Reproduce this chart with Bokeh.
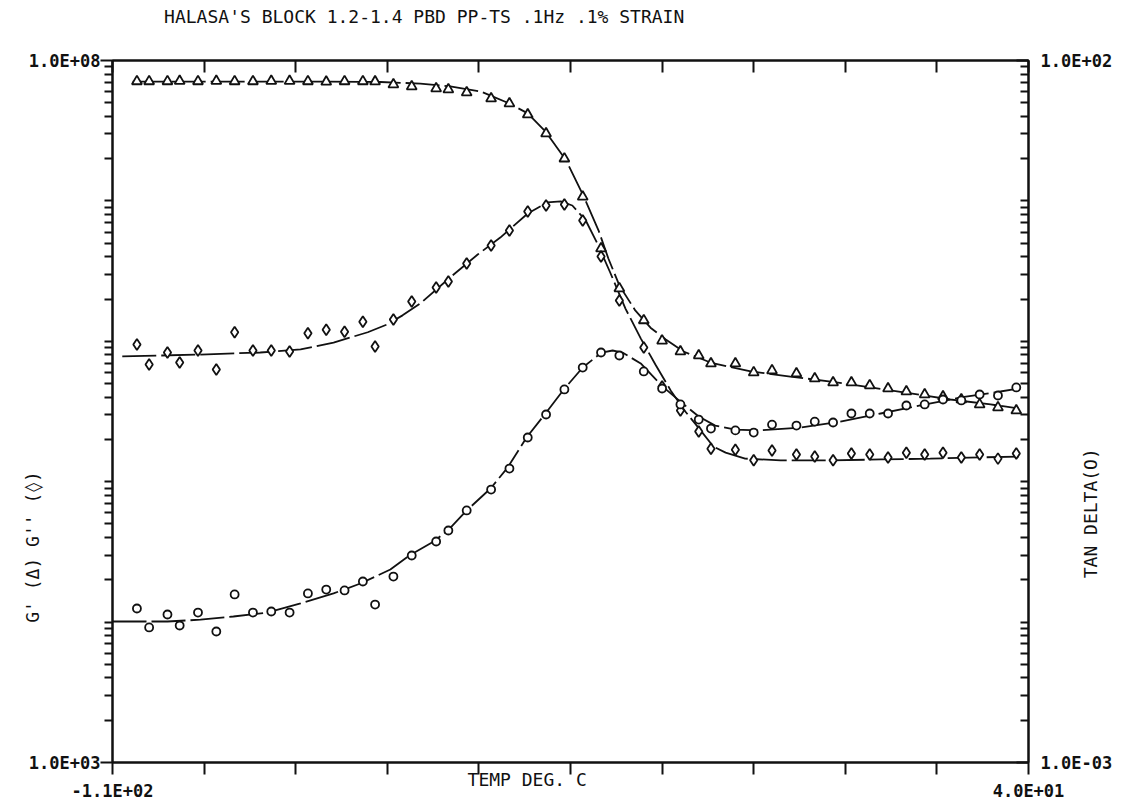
import math
from bokeh.plotting import figure
from bokeh.models import Range1d, LogScale, LogAxis, LinearAxis, FixedTicker
from bokeh.embed import file_html
from bokeh.resources import INLINE

# ---------------- text ----------------
title_text = "HALASA'S BLOCK 1.2-1.4 PBD PP-TS .1Hz .1% STRAIN"
x_label = "TEMP DEG. C"
left_label = "G' (\u0394)    G'' (\u25ca)"
right_label = "TAN DELTA(O)"
x_tick_labels = ["-1.1E+02", "4.0E+01"]
left_tick_labels = ["1.0E+03", "1.0E+08"]
right_tick_labels = ["1.0E-03", "1.0E+02"]

# ---------------- measured points ----------------
temps = [-106, -104, -101, -99, -96, -93, -90, -87, -84, -81,
         -78, -75, -72, -69, -67, -64, -61, -57, -55, -52,
         -48, -45, -42, -39, -36, -33, -30, -27, -23, -20,
         -17, -14, -12, -8, -5, -2, 2, 5, 8, 11,
         14, 17, 20, 23, 26, 29, 32, 35, 38]

g_storage = [7.1e7, 7.1e7, 7.1e7, 7.15e7, 7.1e7, 7.15e7, 7.1e7, 7.1e7, 7.15e7, 7.15e7,
             7.1e7, 7.05e7, 7.1e7, 7.1e7, 7.08e7, 6.75e7, 6.53e7, 6.32e7, 6.22e7, 5.92e7,
             5.36e7, 4.94e7, 4.12e7, 3.02e7, 2.0e7, 1.07e7, 4.58e6, 2.38e6, 1.41e6, 1.01e6,
             8.46e5, 7.92e5, 6.95e5, 6.95e5, 6.0e5, 6.2e5, 5.9e5, 5.43e5, 5.09e5, 5.09e5,
             4.85e5, 4.61e5, 4.39e5, 4.18e5, 4.04e5, 3.85e5, 3.55e5, 3.38e5, 3.21e5]

g_loss = [9.49e5, 6.84e5, 8.32e5, 7.06e5, 8.6e5, 6.3e5, 1.16e6, 8.6e5, 8.6e5, 8.46e5,
          1.14e6, 1.21e6, 1.17e6, 1.38e6, 9.18e5, 1.43e6, 1.92e6, 2.42e6, 2.67e6, 3.58e6,
          4.81e6, 6.15e6, 8.4e6, 9.27e6, 9.43e6, 7.25e6, 4.02e6, 1.95e6, 9.03e5, 4.76e5,
          3.21e5, 2.28e5, 1.72e5, 1.69e5, 1.42e5, 1.67e5, 1.56e5, 1.51e5, 1.42e5, 1.59e5,
          1.56e5, 1.49e5, 1.61e5, 1.56e5, 1.61e5, 1.49e5, 1.56e5, 1.46e5, 1.59e5]

tan_delta = [0.0125, 0.00916, 0.01133, 0.00946, 0.0117, 0.00857, 0.01574, 0.0117, 0.0119, 0.0117,
             0.016, 0.01706, 0.0168, 0.01946, 0.01334, 0.0211, 0.0298, 0.0375, 0.0449, 0.0624,
             0.0879, 0.124, 0.2065, 0.301, 0.454, 0.650, 0.832, 0.792, 0.610, 0.461,
             0.355, 0.277, 0.239, 0.232, 0.224, 0.255, 0.251, 0.268, 0.264, 0.306,
             0.306, 0.306, 0.349, 0.355, 0.385, 0.379, 0.418, 0.411, 0.469]

# ---------------- fitted curves ----------------
gs_curve_t = [-106.7, -95.6, -79.2, -66.1, -59.6, -54.7, -49.7, -45.0, -42.0, -39.1,
              -35.7, -32.9, -30.4, -28.8, -27.0, -24.4, -21.9, -19.4, -16.5, -12.1,
              -5.5, 1.0, 7.6, 14.1, 20.7, 27.2, 33.8, 38.4]
gs_curve_v = [7.08e7, 7.08e7, 7.08e7, 7.03e7, 6.85e7, 6.53e7, 6.01e7, 4.94e7, 4.2e7, 3.12e7,
              1.94e7, 1.09e7, 6.15e6, 3.89e6, 2.5e6, 1.66e6, 1.25e6, 1.03e6, 8.46e5, 7.06e5,
              6.1e5, 5.61e5, 5.17e5, 4.69e5, 4.25e5, 3.85e5, 3.55e5, 3.32e5]

gl_curve_t = [-108.4, -95.6, -85.8, -79.2, -73.8, -68.2, -65.0, -62.5, -59.6, -54.7,
              -50.2, -46.5, -42.0, -38.8, -36.6, -34.7, -32.5, -30.6, -28.5, -26.0,
              -23.5, -21.1, -18.6, -16.2, -13.7, -11.6, -9.6, -6.4, -0.6, 7.6,
              15.8, 23.9, 32.1, 38.4]
gl_curve_v = [7.8e5, 8.05e5, 8.32e5, 8.75e5, 9.8e5, 1.16e6, 1.32e6, 1.53e6, 1.86e6, 2.85e6,
              4.15e6, 5.48e6, 8.13e6, 9.75e6, 9.91e6, 9.27e6, 7.25e6, 4.98e6, 3.09e6, 1.71e6,
              1.05e6, 6.84e5, 4.47e5, 3.16e5, 2.32e5, 1.78e5, 1.61e5, 1.46e5, 1.42e5, 1.42e5,
              1.44e5, 1.46e5, 1.49e5, 1.51e5]

td_curve_t = [-110.0, -101.0, -95.6, -90.2, -84.6, -79.2, -73.8, -69.4, -64.5, -61.4,
              -57.4, -55.1, -52.0, -48.1, -45.3, -42.2, -39.1, -36.1, -33.0, -29.9,
              -28.1, -26.5, -23.5, -19.9, -17.0, -14.0, -11.3, -8.0, -3.9, 2.7,
              9.2, 15.8, 22.3, 28.9, 35.4, 38.4]
td_curve_v = [0.0101, 0.0101, 0.0104, 0.01096, 0.0117, 0.01357, 0.0160, 0.01884, 0.0237, 0.0298,
              0.0375, 0.0449, 0.0624, 0.0894, 0.126, 0.2065, 0.306, 0.454, 0.651, 0.832,
              0.860, 0.832, 0.695, 0.476, 0.372, 0.291, 0.251, 0.235, 0.232, 0.243,
              0.268, 0.306, 0.349, 0.398, 0.439, 0.461]

x_ends = [-110, 40]
x_inner_ticks = [-95, -80, -65, -50, -35, -20, -5, 10, 25]
left_decades = [1e3, 1e4, 1e5, 1e6, 1e7, 1e8]
right_decades = [1e-3, 1e-2, 1e-1, 1e0, 1e1, 1e2]

FONT = "DejaVu Sans Mono"
INK = "#111111"
NBSP = "\u00a0"


def log_minor(decades):
    out = []
    for i, d in enumerate(decades[:-1]):
        for k in range(1, 10):
            if i == 0 and k == 1:
                continue
            out.append(d * k)
    return out


def style_axis(ax):
    ax.axis_line_width = 2
    ax.major_tick_line_width = 2
    ax.minor_tick_line_width = 2
    ax.axis_line_color = INK
    ax.major_tick_line_color = INK
    ax.minor_tick_line_color = INK
    ax.major_tick_in = 0
    ax.major_tick_out = 0
    ax.minor_tick_in = 0
    ax.minor_tick_out = 0
    ax.major_label_text_font = FONT
    ax.major_label_text_font_size = "17px"
    ax.major_label_text_font_style = "bold"
    ax.major_label_text_color = INK
    ax.axis_label_text_font = FONT
    ax.axis_label_text_font_size = "18px"
    ax.axis_label_text_font_style = "normal"
    ax.axis_label_text_color = INK


p = figure(width=1125, height=804,
           x_range=Range1d(-110, 40), y_range=Range1d(1e3, 1e8),
           y_axis_type="log", toolbar_location=None, output_backend="svg",
           min_border_left=112, min_border_right=97,
           min_border_top=60, min_border_bottom=42)
p.extra_y_ranges = {"tan": Range1d(1e-3, 1e2)}
p.extra_y_scales = {"tan": LogScale()}
p.xgrid.visible = False
p.ygrid.visible = False
p.outline_line_color = INK
p.outline_line_width = 2
p.background_fill_color = "white"
p.border_fill_color = "white"
p.title.visible = False

# bottom axis: ticks hang below the frame
xa = p.xaxis[0]
xa.ticker = FixedTicker(ticks=x_ends, minor_ticks=x_inner_ticks)
style_axis(xa)
xa.major_tick_out = 12
xa.minor_tick_out = 12
xa.major_label_overrides = {x_ends[0]: x_tick_labels[0], x_ends[1]: x_tick_labels[1]}
xa.major_label_standoff = 6
xa.axis_label = x_label + " " * 8
xa.axis_label_standoff = -35

# top axis: ticks hang into the frame; carries the chart heading
ta = LinearAxis(ticker=FixedTicker(ticks=[], minor_ticks=x_ends + x_inner_ticks))
style_axis(ta)
ta.minor_tick_in = 12
ta.major_label_standoff = 0
ta.axis_label = title_text + " " * 27
ta.axis_label_standoff = 34
p.add_layout(ta, "above")

# left axis: ticks point outwards
la = p.yaxis[0]
la.ticker = FixedTicker(ticks=[left_decades[0], left_decades[-1]],
                        minor_ticks=log_minor(left_decades))
style_axis(la)
la.major_tick_out = 12
la.minor_tick_out = 8
la.major_label_overrides = {left_decades[0]: left_tick_labels[0],
                            left_decades[-1]: left_tick_labels[1]}
la.major_label_standoff = 0
la.axis_label = left_label + " " * 22
la.axis_label_standoff = -17

# right axis: ticks point into the frame
ra = LogAxis(y_range_name="tan",
             ticker=FixedTicker(ticks=[right_decades[0], right_decades[-1]],
                                minor_ticks=log_minor(right_decades)))
style_axis(ra)
ra.major_tick_in = 12
ra.minor_tick_in = 8
ra.major_label_overrides = {right_decades[0]: right_tick_labels[0],
                            right_decades[-1]: right_tick_labels[1]}
ra.major_label_standoff = 12
rprops = ra.properties()
if "axis_label_orientation" in rprops and "axis_label_align" in rprops:
    ra.axis_label_orientation = math.pi / 2   # read bottom-to-top
    ra.axis_label_align = "start"
    ra.axis_label = NBSP * 17 + right_label
else:
    ra.axis_label = right_label
ra.axis_label_standoff = -25
p.add_layout(ra, "right")

# curves
dash = "34 5"
p.line(gs_curve_t, gs_curve_v, line_color=INK, line_width=1.8, line_dash=dash)
p.line(gl_curve_t, gl_curve_v, line_color=INK, line_width=1.8, line_dash=dash)
p.line(td_curve_t, td_curve_v, line_color=INK, line_width=1.8, line_dash=dash, y_range_name="tan")

# markers
p.scatter(temps, g_storage, marker="triangle", size=10, fill_color="white",
          line_color=INK, line_width=1.8)
p.scatter(temps, g_loss, marker="diamond", size=11, fill_color="white",
          line_color=INK, line_width=1.8)
p.scatter(temps, tan_delta, marker="circle", size=8, fill_color="white",
          line_color=INK, line_width=1.8, y_range_name="tan")

open("out.html", "w").write(file_html(p, INLINE))
